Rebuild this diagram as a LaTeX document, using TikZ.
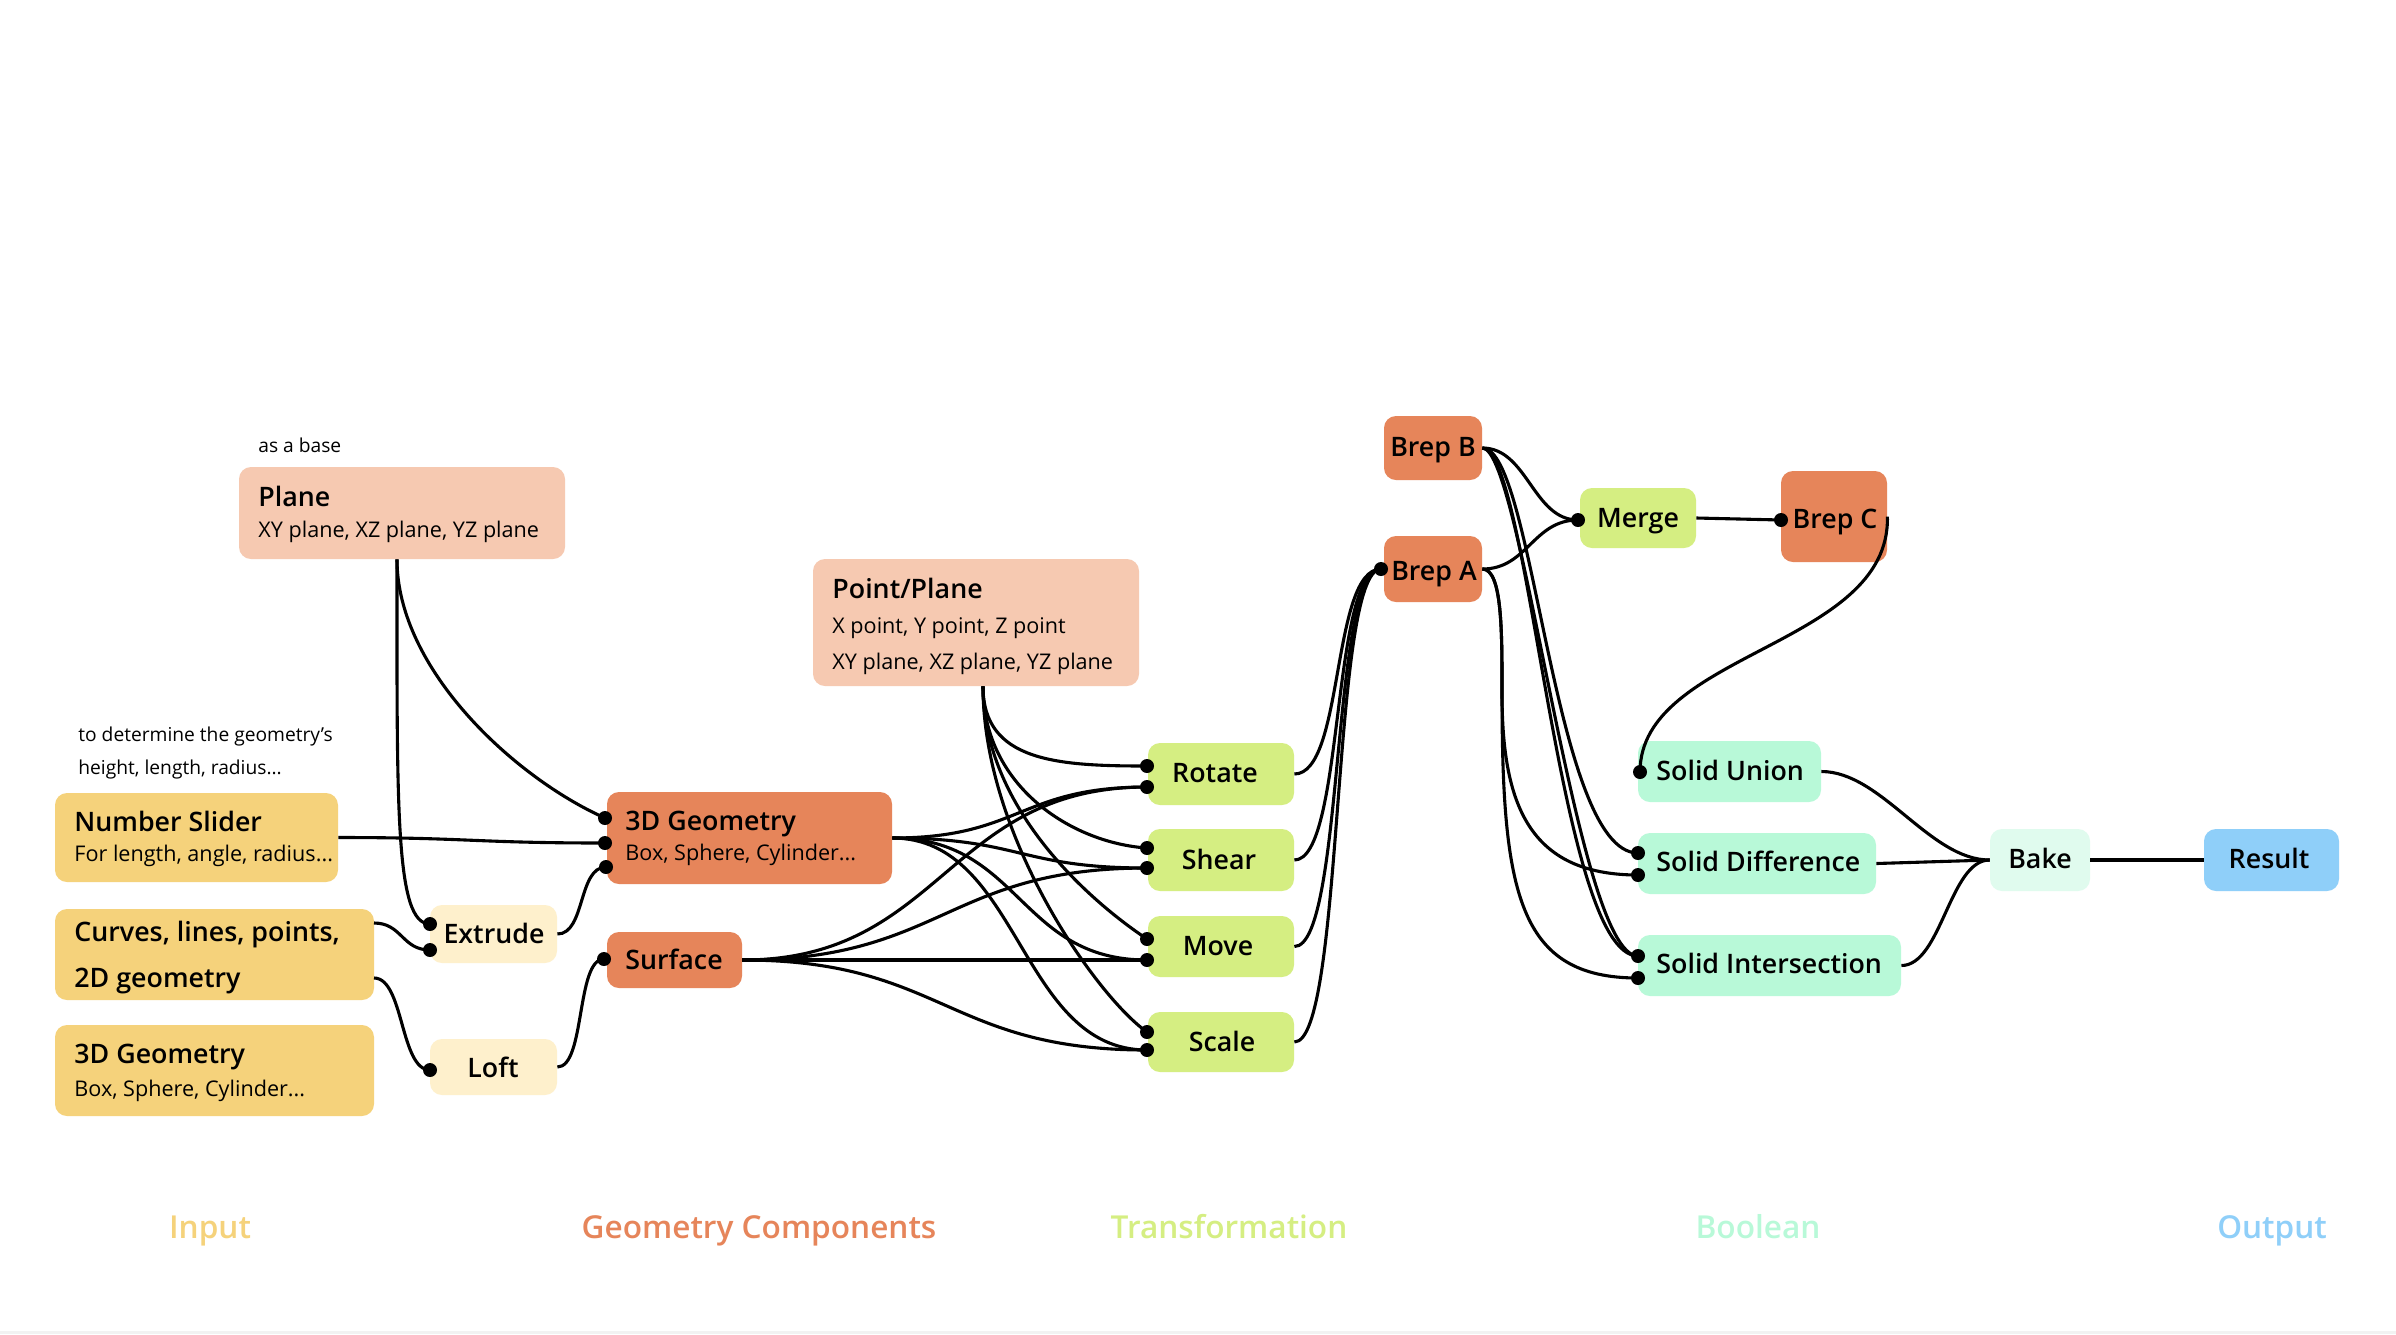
\documentclass[tikz,border=0pt]{standalone}
\usepackage{fontspec}
\setmainfont{Open Sans}
\IfFontExistsTF{Open Sans SemiBold}{\newfontfamily\semib{Open Sans SemiBold}}{%
  \IfFontExistsTF{Open Sans Semibold}{\newfontfamily\semib{Open Sans Semibold}}{\newcommand\semib{\bfseries}}}
\usetikzlibrary{fit,calc}
\definecolor{inC}{RGB}{245,210,123}
\definecolor{inL}{RGB}{254,240,204}
\definecolor{peachC}{RGB}{246,201,177}
\definecolor{geoC}{RGB}{230,133,90}
\definecolor{trC}{RGB}{213,238,130}
\definecolor{boC}{RGB}{184,249,216}
\definecolor{bakeC}{RGB}{224,251,238}
\definecolor{outC}{RGB}{143,207,249}
\tikzset{
  box/.style={rounded corners=6pt, draw=none, inner sep=0pt},
  ttl/.style={font=\semib\fontsize{13.4}{16}\selectfont, inner sep=0pt, anchor=base west},
  ttlc/.style={font=\semib\fontsize{13.4}{16}\selectfont, inner sep=0pt, anchor=base},
  subt/.style={font=\fontsize{10.8}{13}\selectfont, inner sep=0pt, anchor=base west},
  annot/.style={font=\fontsize{9.6}{12}\selectfont, inner sep=0pt, anchor=base west},
  cat/.style={font=\semib\fontsize{15.8}{19}\selectfont, inner sep=0pt, anchor=base},
  wire/.style={line width=1.55pt, black},
}
\begin{document}
\begin{tikzpicture}[x=0.5pt,y=-0.5pt]
\fill[white] (0,0) rectangle (2396,1334);
\useasboundingbox (0,0) rectangle (2396,1334);
\fill[black!5] (0,1331) rectangle (2396,1334);

% ---------- boxes ----------
\node[box, fill=peachC, fit={(239,467)(565,559)}] (plane) {};
\node[box, fill=inC, fit={(55,793)(338,882)}] (ns) {};
\node[box, fill=inC, fit={(55,909)(374,1000)}] (cv) {};
\node[box, fill=inC, fit={(55,1025)(374,1116)}] (g3in) {};
\node[box, fill=inL, fit={(430,905)(557,963)}] (ex) {};
\node[box, fill=inL, fit={(430,1039)(557,1095)}] (lo) {};
\node[box, fill=geoC, fit={(607,792)(892,884)}] (g3) {};
\node[box, fill=geoC, fit={(607,932)(742,988)}] (sf) {};
\node[box, fill=peachC, fit={(813,559)(1139,686)}] (pp) {};
\node[box, fill=trC, fit={(1148,743)(1294,805)}] (ro) {};
\node[box, fill=trC, fit={(1148,829)(1294,891)}] (sh) {};
\node[box, fill=trC, fit={(1148,916)(1294,977)}] (mv) {};
\node[box, fill=trC, fit={(1148,1012)(1294,1072)}] (sc) {};
\node[box, fill=geoC, fit={(1384,416)(1482,480)}] (bb) {};
\node[box, fill=geoC, fit={(1384,536)(1482,602)}] (ba) {};
\node[box, fill=trC, fit={(1580,488)(1696,548)}] (mg) {};
\node[box, fill=geoC, fit={(1781,471)(1887,562)}] (bc) {};
\node[box, fill=boC, fit={(1638,741)(1821,802)}] (su) {};
\node[box, fill=boC, fit={(1638,833)(1876,894)}] (sd) {};
\node[box, fill=boC, fit={(1638,935)(1901,996)}] (si) {};
\node[box, fill=bakeC, fit={(1990,829)(2090,891)}] (bk) {};
\node[box, fill=outC, fit={(2204,829)(2339,891)}] (rs) {};

% ---------- ports ----------
\coordinate (ex1) at (430,924);
\coordinate (ex2) at (430,950);
\coordinate (lo1) at (430,1070);
\coordinate (g31) at (605,818);
\coordinate (g32) at (605,843);
\coordinate (g33) at (606,867);
\coordinate (sf1) at (604,959);
\coordinate (ro1) at (1147,766);
\coordinate (ro2) at (1147,787);
\coordinate (sh1) at (1147,848);
\coordinate (sh2) at (1147,868);
\coordinate (mv1) at (1147,939);
\coordinate (mv2) at (1147,960);
\coordinate (sc1) at (1147,1032);
\coordinate (sc2) at (1147,1050);
\coordinate (ba1) at (1381,569);
\coordinate (mg1) at (1578,520);
\coordinate (bc1) at (1781,520);
\coordinate (su1) at (1640,772);
\coordinate (sd1) at (1638,853);
\coordinate (sd2) at (1638,875);
\coordinate (si1) at (1638,956);
\coordinate (si2) at (1638,978);
\coordinate (plo) at ($(plane.south)+(-5,0)$);
\coordinate (ppo) at ($(pp.south)+(7,0)$);
\coordinate (cvo1) at (374,923);
\coordinate (cvo2) at (374,978);
\coordinate (av) at (1502,693);

% ---------- wires ----------
\draw[wire] (plo) .. controls +(0,250) and +(-35,0) .. (ex1);
\draw[wire] (plo) .. controls +(0,110) and +(-90,-40) .. (g31);
\draw[wire] (ns.east) .. controls +(130,0) and +(-130,0) .. (g32);
\draw[wire] (ex.east) .. controls +(28,0) and +(-28,0) .. (g33);
\draw[wire] (cvo1) .. controls +(28,0) and +(-28,0) .. (ex2);
\draw[wire] (cvo2) .. controls +(30,0) and +(-30,0) .. (lo1);
\draw[wire] (lo.east) .. controls +(28,0) and +(-28,0) .. (sf1);

\foreach \t in {ro2,sh2,mv2,sc2}
  \draw[wire] (g3.east) .. controls +(128,0) and +(-128,0) .. (\t);
\foreach \t in {ro2,sh2,sc2}
  \draw[wire] (sf.east) .. controls +(200,0) and +(-200,0) .. (\t);
\draw[wire] (sf.east) -- (mv2);

\draw[wire] (ppo) .. controls +(0,75) and +(-90,0) .. (ro1);
\draw[wire] (ppo) .. controls +(0,100) and +(-75,-5) .. (sh1);
\draw[wire] (ppo) .. controls +(0,120) and +(-60,-40) .. (mv1);
\draw[wire] (ppo) .. controls +(0,150) and +(-50,-35) .. (sc1);

\foreach \s in {ro,sh,mv,sc}
  \draw[wire] (\s.east) .. controls +(50,0) and +(-50,0) .. (ba1);

\draw[wire] (bb.east) .. controls +(45,0) and +(-45,0) .. (mg1);
\draw[wire] (ba.east) .. controls +(45,0) and +(-45,0) .. (mg1);
\draw[wire] (bb.east) .. controls +(52,0) and +(-85,0) .. (sd1);
\draw[wire] (bb.east) .. controls +(47,0) and +(-80,0) .. (si1);
\draw[wire] (bb.east) .. controls +(40,0) and +(-62,0) .. (si1);
\draw[wire] (ba.east) .. controls +(20,0) and +(0,-60) .. (av) .. controls +(0,110) and +(-110,0) .. (sd2);
\draw[wire] (ba.east) .. controls +(20,0) and +(0,-60) .. (av) .. controls +(0,200) and +(-120,0) .. (si2);
\draw[wire] (mg.east) -- (bc1);
\draw[wire] (bc.east) .. controls +(3,130) and +(0,-120) .. (su1);
\draw[wire] (su.east) .. controls +(60,0) and +(-60,0) .. (bk.west);
\draw[wire] (sd.east) -- (bk.west);
\draw[wire] (si.east) .. controls +(40,0) and +(-40,0) .. (bk.west);
\draw[wire] (bk.east) -- (rs.west);

% ---------- dots ----------
\foreach \p in {ex1,ex2,lo1,g31,g32,g33,sf1,ro1,ro2,sh1,sh2,mv1,mv2,sc1,sc2,ba1,mg1,bc1,su1,sd1,sd2,si1,si2}
  \fill (\p) circle (3.5pt);

% ---------- texts ----------
\node[annot] (n-base) at (258,452) {as a base};
\node[annot] (n-det1) at (78,741) {to determine the geometry’s};
\node[annot] (n-det2) at (78,774) {height, length, radius...};

\node[ttl] (t-plane) at (258,506) {Plane};
\node[subt] (s-plane) at (258,537) {XY plane, XZ plane, YZ plane};
\node[ttl] (t-ns) at (74,831) {Number Slider};
\node[subt] (s-ns) at (74,861) {For length, angle, radius...};
\node[ttl] (t-cv1) at (74,941) {Curves, lines, points,};
\node[ttl] (t-cv2) at (74,987) {2D geometry};
\node[ttl] (t-g3in) at (74,1063) {3D Geometry};
\node[subt] (s-g3in) at (74,1096) {Box, Sphere, Cylinder...};
\node[ttlc] (t-ex) at (494,943) {Extrude};
\node[ttlc] (t-lo) at (493,1077) {Loft};

\node[ttl] (t-g3) at (625,830) {3D Geometry};
\node[subt] (s-g3) at (625,860) {Box, Sphere, Cylinder...};
\node[ttl] (t-sf) at (625,969) {Surface};
\node[ttl] (t-pp) at (832,598) {Point/Plane};
\node[subt] (s-pp1) at (832,633) {X point, Y point, Z point};
\node[subt] (s-pp2) at (832,669) {XY plane, XZ plane, YZ plane};

\node[ttlc] (t-ro) at (1215,782) {Rotate};
\node[ttlc] (t-sh) at (1219,869) {Shear};
\node[ttlc] (t-mv) at (1218,955) {Move};
\node[ttlc] (t-sc) at (1222,1051) {Scale};

\node[ttlc] (t-bb) at (1433,456) {Brep B};
\node[ttlc] (t-ba) at (1434,580) {Brep A};
\node[ttlc] (t-mg) at (1638,527) {Merge};
\node[ttlc] (t-bc) at (1835,528) {Brep C};
\node[ttl] (t-su) at (1656,780) {Solid Union};
\node[ttl] (t-sd) at (1656,871) {Solid Difference};
\node[ttl] (t-si) at (1656,973) {Solid Intersection};
\node[ttlc] (t-bk) at (2040,868) {Bake};
\node[ttlc] (t-rs) at (2269,868) {Result};

\node[cat, text=inC] (c-in) at (210,1238) {Input};
\node[cat, text=geoC] (c-geo) at (759,1238) {Geometry Components};
\node[cat, text=trC] (c-tr) at (1229,1238) {Transformation};
\node[cat, text=boC] (c-bo) at (1758,1238) {Boolean};
\node[cat, text=outC] (c-out) at (2272,1238) {Output};
\end{tikzpicture}
\end{document}
